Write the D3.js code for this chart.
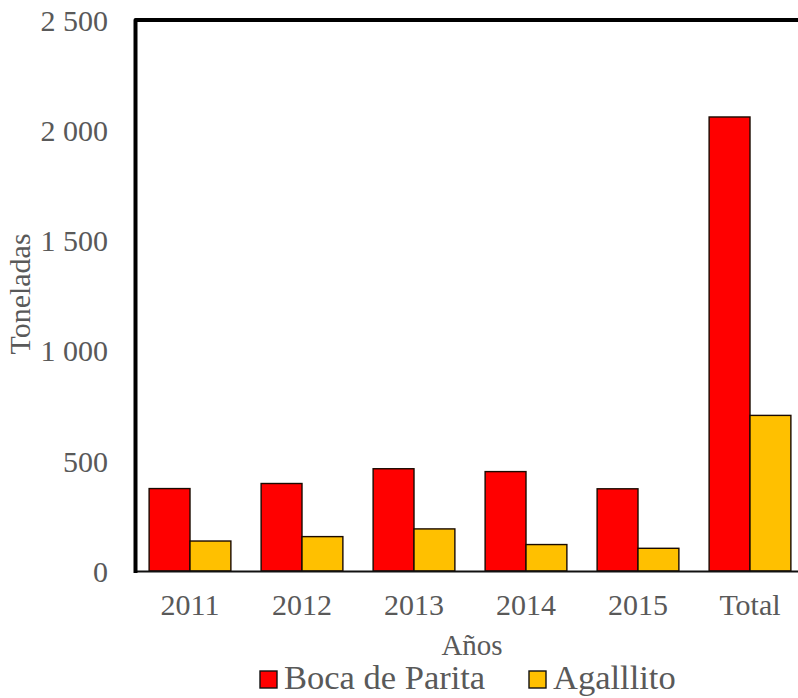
<!DOCTYPE html>
<html>
<head>
<meta charset="utf-8">
<script src="https://cdn.jsdelivr.net/npm/d3@7"></script>
<style>
    html, body { margin: 0; padding: 0; background: #ffffff; }
    svg { display: block; }
</style>
</head>
<body>
<svg id="chart"></svg>
<script>
const categories = ['2011', '2012', '2013', '2014', '2015', 'Total'];
const series_names = ['Boca de Parita', 'Agalllito'];
const boca_de_parita = [374, 397, 464, 451, 373, 2060];
const agalllito = [136, 156, 191, 120, 103, 706];
const y_ticks = [0, 500, 1000, 1500, 2000, 2500];
const series_colors = ['#ff0000', '#ffc000'];

class BarChart {
    constructor (selector) {
        this._selector = selector;
        this.w = 798;
        this.h = 698;
        this.font = '"Liberation Serif", "Times New Roman", serif';
        this.svg = d3.select(selector)
            .attr('width', this.w)
            .attr('height', this.h);

        this.x0 = d3.scaleBand()
            .domain(categories)
            .range([134, 806])
            .paddingInner(0.27)
            .paddingOuter(0.135);

        this.x1 = d3.scaleBand()
            .domain(series_names)
            .range([0, this.x0.bandwidth()]);

        this.y = d3.scaleLinear()
            .domain([0, 2500])
            .range([571, 20]);
    }
    fmt (v) {
        // thousands with a space, as in the original
        return d3.format(',')(v).replace(/,/g, ' ');
    }
    drawBars () {
        let rows = [];
        categories.forEach((c, i) => {
            rows.push({ cat: c, name: series_names[0], v: boca_de_parita[i], color: series_colors[0] });
            rows.push({ cat: c, name: series_names[1], v: agalllito[i], color: series_colors[1] });
        });

        this.svg.append('g')
            .attr('class', 'bars')
            .selectAll('rect')
            .data(rows)
            .enter()
            .append('rect')
            .attr('x', (d) => { return this.x0(d.cat) + this.x1(d.name); })
            .attr('y', (d) => { return this.y(d.v); })
            .attr('width', this.x1.bandwidth())
            .attr('height', (d) => { return this.y(0) - this.y(d.v); })
            .attr('fill', (d) => { return d.color; })
            .attr('stroke', '#1a0a00')
            .attr('stroke-width', 1.4);
    }
    drawAxes () {
        let y0 = this.y(0);
        let top = this.y(2500);

        // bottom axis line
        this.svg.append('line')
            .attr('x1', 134).attr('x2', this.w)
            .attr('y1', y0 + 0.5).attr('y2', y0 + 0.5)
            .attr('stroke', '#111111')
            .attr('stroke-width', 2.2);

        // thick frame: left and top
        this.svg.append('path')
            .attr('d', `M135.5,${y0 + 2} L135.5,${top} L${this.w + 5},${top}`)
            .attr('fill', 'none')
            .attr('stroke', '#000000')
            .attr('stroke-width', 4)
            .attr('stroke-linejoin', 'round');

        let yAxis = d3.axisLeft(this.y)
            .tickValues(y_ticks)
            .tickSize(0)
            .tickPadding(0)
            .tickFormat((d) => { return this.fmt(d); });

        let gy = this.svg.append('g')
            .attr('transform', 'translate(108,0)')
            .call(yAxis);
        gy.select('.domain').remove();
        gy.selectAll('text')
            .attr('font-family', this.font)
            .attr('font-size', 30)
            .attr('fill', '#595959')
            .attr('dy', '0.34em');

        let xAxis = d3.axisBottom(this.x0)
            .tickSize(0)
            .tickPadding(0);

        let gx = this.svg.append('g')
            .attr('transform', 'translate(0,615)')
            .call(xAxis);
        gx.select('.domain').remove();
        gx.selectAll('text')
            .attr('font-family', this.font)
            .attr('font-size', 30)
            .attr('fill', '#595959')
            .attr('dy', 0);
    }
    drawTitles () {
        this.svg.append('text')
            .attr('x', 472)
            .attr('y', 655)
            .attr('text-anchor', 'middle')
            .attr('font-family', this.font)
            .attr('font-size', 29)
            .attr('fill', '#595959')
            .text('Años');

        this.svg.append('text')
            .attr('transform', 'translate(30,294) rotate(-90)')
            .attr('text-anchor', 'middle')
            .attr('font-family', this.font)
            .attr('font-size', 30)
            .attr('fill', '#595959')
            .text('Toneladas');
    }
    drawLegend () {
        let items = [
            { name: series_names[0], color: series_colors[0], x: 260 },
            { name: series_names[1], color: series_colors[1], x: 529 },
        ];

        let g = this.svg.append('g').attr('class', 'legend');

        let item = g.selectAll('g.item')
            .data(items)
            .enter()
            .append('g')
            .attr('class', 'item')
            .attr('transform', (d) => { return `translate(${d.x},0)`; });

        item.append('rect')
            .attr('x', 0)
            .attr('y', 671)
            .attr('width', 17)
            .attr('height', 17)
            .attr('fill', (d) => { return d.color; })
            .attr('stroke', '#111111')
            .attr('stroke-width', 1.4);

        item.append('text')
            .attr('x', 24)
            .attr('y', 689)
            .attr('font-family', this.font)
            .attr('font-size', 34.5)
            .attr('fill', '#595959')
            .text((d) => { return d.name; });
    }
    draw () {
        this.drawBars();
        this.drawAxes();
        this.drawTitles();
        this.drawLegend();
    }
}

new BarChart('#chart').draw();
</script>
</body>
</html>
